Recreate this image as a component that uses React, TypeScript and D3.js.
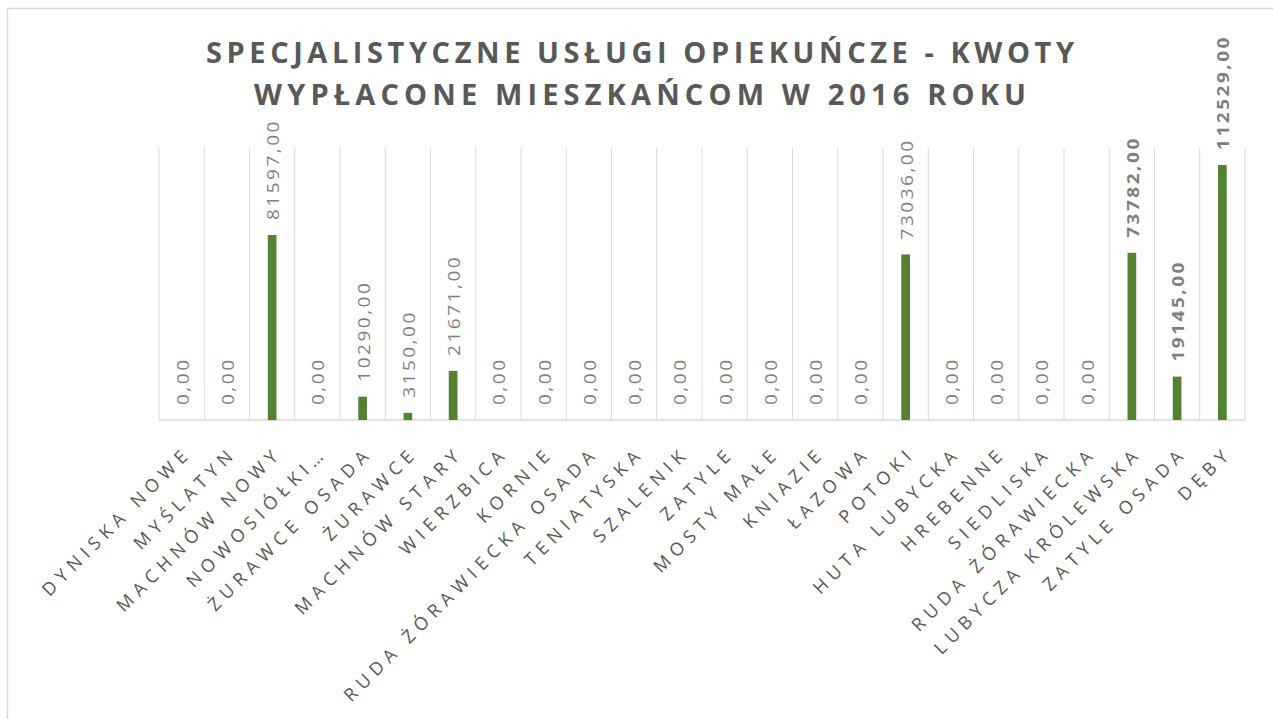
import React from "react";
import * as d3 from "d3";

const categories = [
  "DYNISKA NOWE", "MYŚLATYN", "MACHNÓW NOWY", "NOWOSIÓŁKI…", "ŻURAWCE OSADA", "ŻURAWCE",
  "MACHNÓW STARY", "WIERZBICA", "KORNIE", "RUDA ŻÓRAWIECKA OSADA", "TENIATYSKA", "SZALENIK",
  "ZATYLE", "MOSTY MAŁE", "KNIAZIE", "ŁAZOWA", "POTOKI", "HUTA LUBYCKA", "HREBENNE",
  "SIEDLISKA", "RUDA ŻÓRAWIECKA", "LUBYCZA KRÓLEWSKA", "ZATYLE OSADA", "DĘBY",
];
const values = [
  0, 0, 81597, 0, 10290, 3150, 21671, 0, 0, 0, 0, 0,
  0, 0, 0, 0, 73036, 0, 0, 0, 0, 73782, 19145, 112529,
];
const boldLabels = [
  false, false, false, false, false, false, false, false, false, false, false, false,
  false, false, false, false, false, false, false, false, false, true, true, true,
];
const titleLines = ["SPECJALISTYCZNE USŁUGI OPIEKUŃCZE - KWOTY", "WYPŁACONE MIESZKAŃCOM W 2016 ROKU"];

const W = 1273;
const H = 719;
const plot = { left: 159, right: 1245, top: 148, bottom: 420 };

export default function App() {
  const x = d3.scaleBand<number>().domain(d3.range(categories.length)).range([plot.left, plot.right]).padding(0);
  const y = d3.scaleLinear().domain([0, 120000]).range([plot.bottom, plot.top]);
  const bw = 8.7;
  const fmt = (v: number) => v.toFixed(2).replace(".", ",");
  const font = "'Open Sans', sans-serif";
  const boundaries = d3.range(categories.length + 1).map((i) => plot.left + i * x.bandwidth());

  return (
    <svg width={W} height={H} style={{ position: "absolute", left: 0, top: 0 }}>
      <rect x={0} y={0} width={W} height={H} fill="#fff" />
      <rect x={7.5} y={8.5} width={W + 20} height={H + 20} fill="#fff" stroke="#d9d9d9" strokeWidth={1.5} />
      <g fontFamily={font} fontWeight={700} fill="#595959" fontSize={29} textAnchor="middle">
        <text transform="translate(640,63)" textLength={868} lengthAdjust="spacing">{titleLines[0]}</text>
        <text transform="translate(640,105)" textLength={772} lengthAdjust="spacing">{titleLines[1]}</text>
      </g>
      {boundaries.map((bx, i) => (
        <line key={"g" + i} x1={bx} x2={bx} y1={plot.top} y2={plot.bottom} stroke="#d9d9d9" strokeWidth={1} />
      ))}
      <line x1={plot.left} x2={plot.right} y1={plot.bottom} y2={plot.bottom} stroke="#d9d9d9" strokeWidth={1.5} />
      {values.map((v, i) => {
        const cx = (x(i) as number) + x.bandwidth() / 2;
        return (
          <rect key={"b" + i} x={cx - bw / 2} y={y(v)} width={bw} height={plot.bottom - y(v)} fill="#548235" />
        );
      })}
      {values.map((v, i) => {
        const cx = (x(i) as number) + x.bandwidth() / 2 + 1;
        const ly = y(v) - 15;
        return (
          <text
            key={"l" + i}
            transform={`translate(${cx},${ly}) rotate(-90) scale(1.15,1)`}
            dy="0.36em"
            fontFamily={font}
            fontSize={16.5}
            letterSpacing={2.2}
            fontWeight={boldLabels[i] ? 700 : 400}
            fill="#7f7f7f"
          >
            {fmt(v)}
          </text>
        );
      })}
      {categories.map((c, i) => {
        const cx = (x(i) as number) + x.bandwidth() / 2;
        return (
          <text
            key={"c" + i}
            transform={`translate(${cx + 11},${454}) rotate(-45)`}
            textAnchor="end"
            fontFamily={font}
            fontSize={18}
            letterSpacing={5.8}
            fill="#595959"
          >
            {c}
          </text>
        );
      })}
    </svg>
  );
}
